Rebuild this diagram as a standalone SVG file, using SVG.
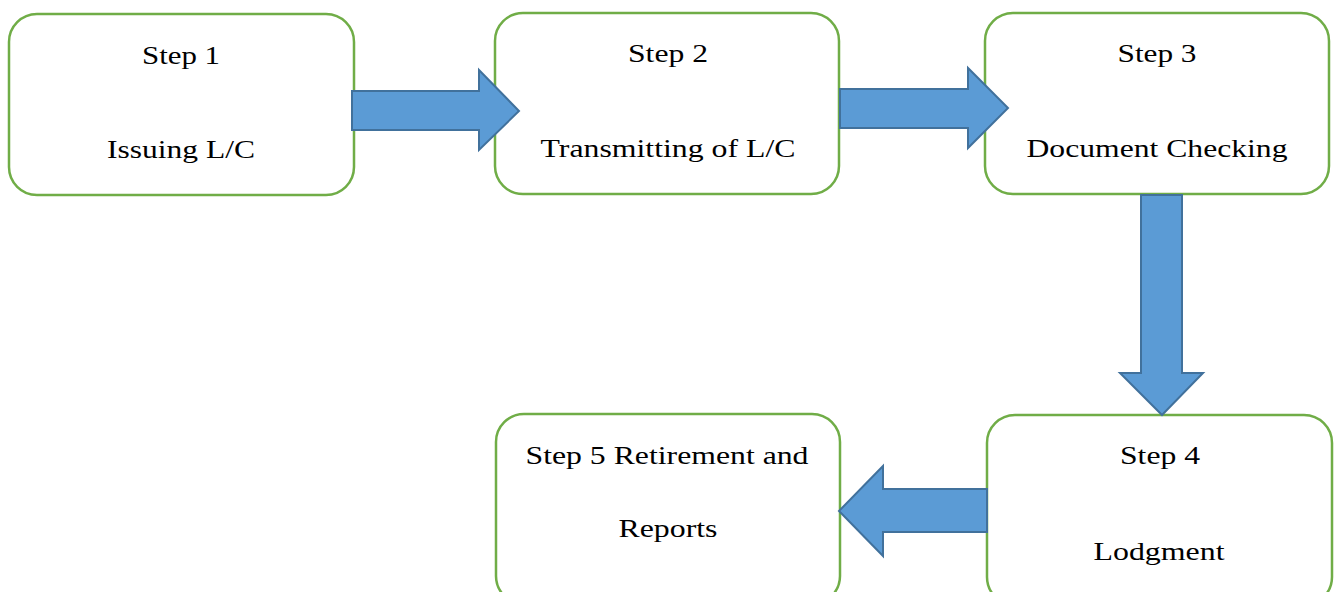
<svg xmlns="http://www.w3.org/2000/svg" width="1338" height="592" viewBox="0 0 1338 592">
<style>
.box{fill:#fff;stroke:#70AD47;stroke-width:2.5}
.arr{fill:#5B9BD5;stroke:#41719C;stroke-width:2;stroke-linejoin:miter}
.t{font-family:'Liberation Serif',Tinos,'Times New Roman',Times,serif;font-size:25px;fill:#000;text-anchor:middle}
</style>
<rect width="1338" height="592" fill="#fff"/>
<g id="step1">
<rect class="box" x="9" y="14" width="345" height="181" rx="28"/>
<text class="t" x="181" y="64" textLength="78" lengthAdjust="spacingAndGlyphs">Step 1</text>
<text class="t" x="181" y="158" textLength="148" lengthAdjust="spacingAndGlyphs">Issuing L/C</text>
</g>
<g id="step2">
<rect class="box" x="495" y="13" width="344" height="181" rx="28"/>
<text class="t" x="668" y="62" textLength="80" lengthAdjust="spacingAndGlyphs">Step 2</text>
<text class="t" x="668" y="157" textLength="255" lengthAdjust="spacingAndGlyphs">Transmitting of L/C</text>
</g>
<g id="step3">
<rect class="box" x="985" y="13" width="344" height="181" rx="28"/>
<text class="t" x="1157" y="62" textLength="79" lengthAdjust="spacingAndGlyphs">Step 3</text>
<text class="t" x="1157" y="157" textLength="261" lengthAdjust="spacingAndGlyphs">Document Checking</text>
</g>
<g id="step4">
<rect class="box" x="987" y="415" width="345" height="190" rx="28"/>
<text class="t" x="1160" y="464" textLength="80" lengthAdjust="spacingAndGlyphs">Step 4</text>
<text class="t" x="1159" y="560" textLength="131" lengthAdjust="spacingAndGlyphs">Lodgment</text>
</g>
<g id="step5">
<rect class="box" x="496" y="414" width="344" height="190" rx="28"/>
<text class="t" x="667" y="464" textLength="283" lengthAdjust="spacingAndGlyphs">Step 5 Retirement and</text>
<text class="t" x="668" y="537" textLength="99" lengthAdjust="spacingAndGlyphs">Reports</text>
</g>
<g id="connectors">
<polygon class="arr" points="352,91 479,91 479,70 519,111 479,150 479,130 352,130"/>
<polygon class="arr" points="840,89 968,89 968,68 1008,108 968,148 968,128 840,128"/>
<polygon class="arr" points="1141,195 1182,195 1182,373 1203,373 1162,415 1120,373 1141,373"/>
<polygon class="arr" points="987,489 883,489 883,466 839,511 883,556 883,532 987,532"/>
</g>
</svg>
